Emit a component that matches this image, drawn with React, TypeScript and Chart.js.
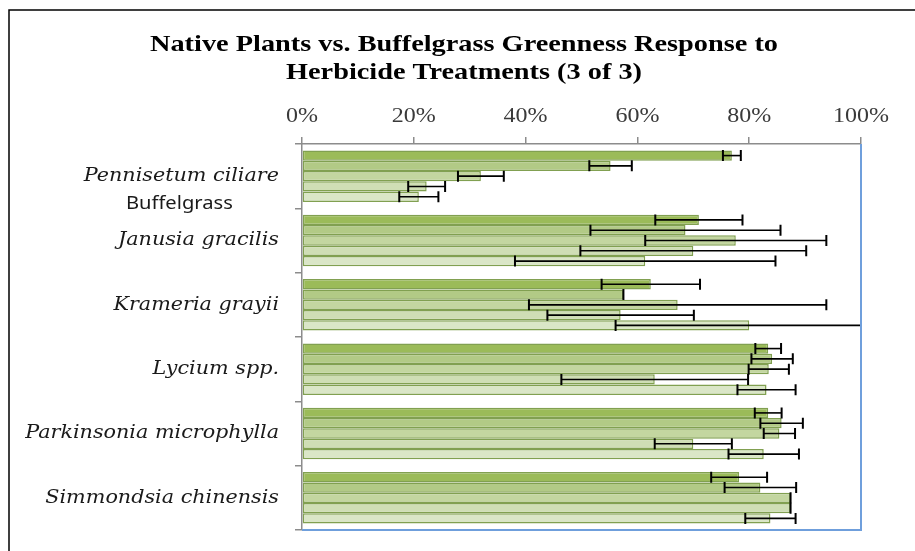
import React, { useEffect, useRef } from 'react';
import { Chart, registerables } from 'chart.js';

Chart.register(...registerables);

const titleLines = ['Native Plants vs. Buffelgrass Greenness Response to', 'Herbicide Treatments (3 of 3)'];
const categories = [
  'Pennisetum ciliare',
  'Janusia gracilis',
  'Krameria grayii',
  'Lycium spp.',
  'Parkinsonia microphylla',
  'Simmondsia chinensis',
];
const subLabels = ['Buffelgrass', '', '', '', '', ''];
const seriesNames = ['Treatment 1', 'Treatment 2', 'Treatment 3', 'Treatment 4', 'Treatment 5'];

const series1 = [76.9, 71.0, 62.4, 83.4, 83.4, 78.2];
const series2 = [55.2, 68.6, 57.5, 84.1, 85.8, 82.0];
const series3 = [32.0, 77.6, 67.2, 83.5, 85.4, 87.4];
const series4 = [22.3, 70.0, 57.0, 63.1, 70.0, 87.4];
const series5 = [20.9, 61.4, 80.0, 83.1, 82.6, 83.8];

const err1 = [1.6, 7.8, 8.8, 2.3, 2.4, 5.0];
const err2 = [3.8, 17.0, 0, 3.7, 3.8, 6.4];
const err3 = [4.1, 16.2, 26.6, 3.6, 2.8, 0];
const err4 = [3.3, 20.2, 13.1, 16.7, 6.9, 0];
const err5 = [3.5, 23.3, 23.9, 5.2, 6.3, 4.5];

const xMin = 0;
const xMax = 100;
const xStep = 20;

const allSeries = [series1, series2, series3, series4, series5];
const allErrors = [err1, err2, err3, err4, err5];
const fills = ['#9bbb59', '#b2ca86', '#c3d6a0', '#cfdeb5', '#dae6c7'];

function scaledText(ctx: any, text: string, x: number, y: number, sx: number) {
  ctx.save();
  ctx.translate(x, y);
  ctx.scale(sx, 1);
  ctx.fillText(text, 0, 0);
  ctx.restore();
}

const framePlugin = {
  id: 'frame',
  beforeDraw(chart: any) {
    const ctx = chart.ctx;
    ctx.save();
    ctx.fillStyle = '#ffffff';
    ctx.fillRect(0, 0, chart.width, chart.height);
    ctx.strokeStyle = '#000000';
    ctx.lineWidth = 1.5;
    ctx.beginPath();
    ctx.moveTo(9, chart.height);
    ctx.lineTo(9, 10);
    ctx.lineTo(chart.width, 10);
    ctx.stroke();
    // title
    ctx.fillStyle = '#000000';
    ctx.font = 'bold 24px "Liberation Serif"';
    ctx.textAlign = 'center';
    ctx.textBaseline = 'middle';
    titleLines.forEach((t, i) => scaledText(ctx, t, 464, 45 + i * 28, 1.18));
    ctx.restore();
  },
};

const errorBarPlugin = {
  id: 'errorBars',
  afterDatasetsDraw(chart: any) {
    const ctx = chart.ctx;
    const xs = chart.scales.x;
    const area = chart.chartArea;
    ctx.save();
    ctx.beginPath();
    ctx.rect(area.left, area.top - 2, area.right - area.left + 1, area.bottom - area.top + 4);
    ctx.clip();
    ctx.strokeStyle = '#000000';
    chart.data.datasets.forEach((ds: any, di: number) => {
      const meta = chart.getDatasetMeta(di);
      const errs = allErrors[di];
      meta.data.forEach((bar: any, i: number) => {
        const v = ds.data[i];
        const e = errs[i];
        const y = bar.y;
        const half = 5.5;
        const x0 = xs.getPixelForValue(v - e);
        const x1 = xs.getPixelForValue(v + e);
        ctx.lineWidth = 1.6;
        ctx.beginPath();
        ctx.moveTo(x0, y);
        ctx.lineTo(x1, y);
        ctx.stroke();
        ctx.lineWidth = 2;
        ctx.beginPath();
        ctx.moveTo(x0, y - half);
        ctx.lineTo(x0, y + half);
        ctx.moveTo(x1, y - half);
        ctx.lineTo(x1, y + half);
        ctx.stroke();
      });
    });
    ctx.restore();
  },
};

const decorPlugin = {
  id: 'decor',
  afterDraw(chart: any) {
    const ctx = chart.ctx;
    const area = chart.chartArea;
    const ys = chart.scales.y;
    const xs = chart.scales.x;
    ctx.save();
    ctx.strokeStyle = '#6f9fdc';
    ctx.lineWidth = 2;
    ctx.beginPath();
    ctx.moveTo(area.right, area.top);
    ctx.lineTo(area.right, area.bottom);
    ctx.lineTo(area.left, area.bottom);
    ctx.stroke();

    // x tick labels (top)
    ctx.font = '20px "Liberation Serif"';
    ctx.textAlign = 'center';
    ctx.textBaseline = 'middle';
    ctx.fillStyle = '#3a3a3a';
    xs.ticks.forEach((t: any) => {
      scaledText(ctx, t.value + '%', xs.getPixelForValue(t.value), area.top - 27, 1.2);
    });

    // category labels
    const right = area.left - 23;
    chart.data.labels.forEach((c: string, i: number) => {
      const yc = ys.getPixelForValue(i);
      ctx.font = 'italic 19px "DejaVu Serif"';
      ctx.textAlign = 'right';
      ctx.textBaseline = 'middle';
      ctx.fillStyle = '#1a1a1a';
      const sx = 1.09;
      scaledText(ctx, c, right, yc, sx);
      if (subLabels[i]) {
        const w = ctx.measureText(c).width * sx;
        ctx.font = '18px "Noto Sans"';
        ctx.textAlign = 'center';
        scaledText(ctx, subLabels[i], right - w / 2 - 2, yc + 28, 1.12);
      }
    });
    ctx.restore();
  },
};

export default function App() {
  const ref = useRef<HTMLCanvasElement>(null);
  useEffect(() => {
    if (!ref.current) return;
    const chart = new Chart(ref.current, {
      type: 'bar',
      data: {
        labels: categories,
        datasets: allSeries.map((s, i) => ({
          label: seriesNames[i],
          data: s,
          backgroundColor: fills[i],
          borderColor: 'rgba(115,150,62,0.9)',
          borderWidth: 1.5,
          borderSkipped: false,
          categoryPercentage: 0.8,
          barPercentage: 1.0,
        })),
      },
      options: {
        indexAxis: 'y',
        responsive: false,
        animation: false,
        devicePixelRatio: 1,
        layout: { padding: { left: 0, right: 54, top: 87, bottom: 21 } },
        plugins: {
          legend: { display: false },
          tooltip: { enabled: false },
          title: { display: false },
        },
        scales: {
          x: {
            position: 'top',
            min: xMin,
            max: xMax,
            ticks: { stepSize: xStep, display: false },
            grid: { drawOnChartArea: false, drawTicks: true, tickLength: 7, color: '#8c8c8c', lineWidth: 1.5 },
            border: { display: true, color: '#8c8c8c', width: 1.5 },
            afterFit: (s: any) => {
              s.height = 57;
            },
          },
          y: {
            ticks: { display: false },
            grid: { drawOnChartArea: false, drawTicks: true, tickLength: 7, color: '#8c8c8c', lineWidth: 1.5, offset: true },
            border: { display: true, color: '#8c8c8c', width: 1.5 },
            afterFit: (s: any) => {
              s.width = 302;
            },
          },
        },
      },
      plugins: [framePlugin, errorBarPlugin, decorPlugin],
    } as any);
    return () => chart.destroy();
  }, []);
  return (
    <div style={{ position: 'fixed', left: 0, top: 0, width: 915, height: 551, background: '#fff' }}>
      <canvas ref={ref} width={915} height={551} style={{ width: 915, height: 551, display: 'block' }} />
    </div>
  );
}
